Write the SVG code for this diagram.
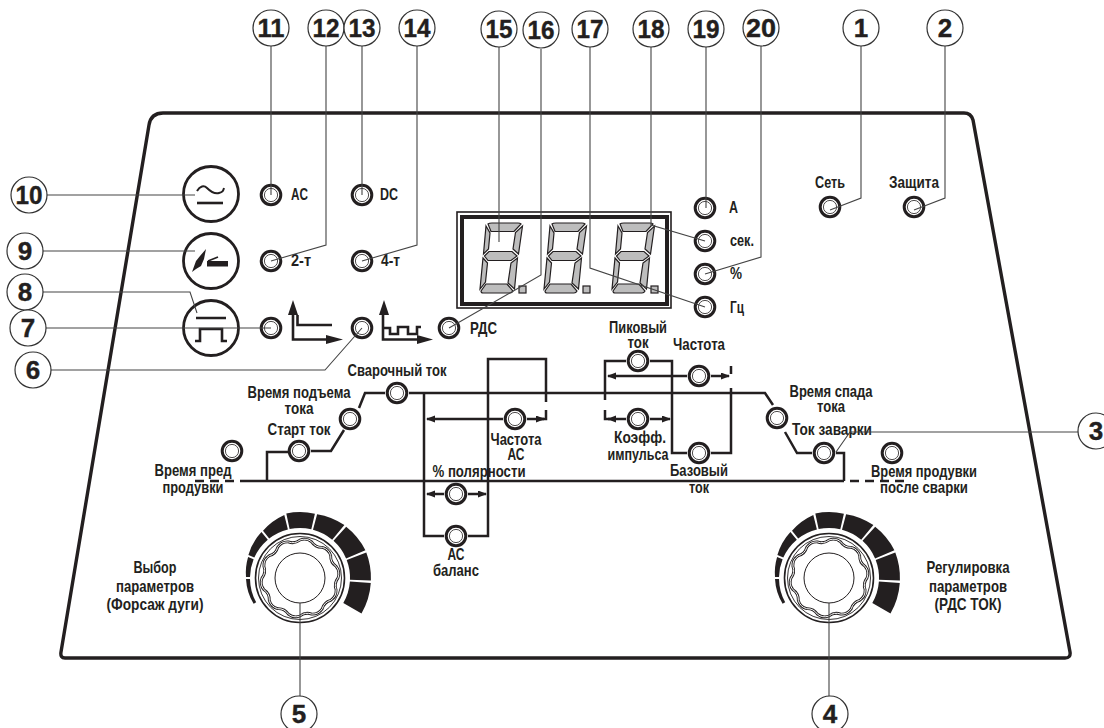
<svg xmlns="http://www.w3.org/2000/svg" width="1104" height="728" viewBox="0 0 1104 728">
<style>
text{font-family:"Liberation Sans",Arial,sans-serif;font-weight:700;font-size:16.5px;fill:#231f20}
.m{text-anchor:middle}
.num{font-size:26px;text-anchor:middle;stroke:#231f20;stroke-width:.4}
.c{fill:#fff;stroke:#333;stroke-width:1.2}
.thin{fill:none;stroke:#444;stroke-width:1.1}
.thick{fill:none;stroke:#231f20;stroke-width:2.5}
.dash{fill:none;stroke:#231f20;stroke-width:2.5;stroke-dasharray:9 6}
.seg{fill:#bdbdbd;stroke:#231f20;stroke-width:1.2}
.btn{fill:#fff;stroke:#231f20;stroke-width:2.8}
.ic{fill:none;stroke:#231f20;stroke-width:2.6}
</style>
<defs>
<marker id="ah" markerUnits="userSpaceOnUse" markerWidth="10" markerHeight="8" refX="8" refY="3.5" orient="auto"><path d="M0,0L9,3.5L0,7Z" fill="#231f20"/></marker>
<g id="led"><circle r="9.8" fill="#fff" stroke="#231f20" stroke-width="3"/><circle r="6.6" fill="#fff" stroke="#231f20" stroke-width=".8"/></g>
<g id="digit" class="seg">
<path d="M8,1Q9,0 12,0L38,0Q40,0 41,1L34,8.5L11,8.5Z"/>
<path d="M6,3L10,10L8.5,26L3.5,31Z"/>
<path d="M42.5,3L38.5,31L33,26L35.5,9.5Z"/>
<path d="M4.5,33L9,28.5L32,28.5L37,33L31,37.5L8,37.5Z"/>
<path d="M3,35L7.5,40L5.5,59L0,66Z"/>
<path d="M37.5,35L34.5,66L28,60L31,40Z"/>
<path d="M1,68L6,61L27,61L33,68Q32,70 30,70L3,70Q1,70 1,68Z"/>
<rect x="39" y="63" width="7" height="7"/>
</g>
<path id="wave" d="M0,-38A12,12 0 0 1 11.7,-36.1A12,12 0 0 0 22.3,-30.7A12,12 0 0 1 30.7,-22.3A12,12 0 0 0 36.1,-11.7A12,12 0 0 1 38,0A12,12 0 0 0 36.1,11.7A12,12 0 0 1 30.7,22.3A12,12 0 0 0 22.3,30.7A12,12 0 0 1 11.7,36.1A12,12 0 0 0 0,38A12,12 0 0 1 -11.7,36.1A12,12 0 0 0 -22.3,30.7A12,12 0 0 1 -30.7,22.3A12,12 0 0 0 -36.1,11.7A12,12 0 0 1 -38,0A12,12 0 0 0 -36.1,-11.7A12,12 0 0 1 -30.7,-22.3A12,12 0 0 0 -22.3,-30.7A12,12 0 0 1 -11.7,-36.1A12,12 0 0 0 0,-38Z"/>
<g id="knob">
<g fill="#231f20">
<path d="M-43.8,24.3L-46.4,25.7A53.5,53.5 0 0 1 -54,0.9L-50,0.9A50,50 0 0 0 -43.8,24.3Z"/>
<path d="M-50,-0.9L-54,-0.9A55,55 0 0 1 -51.9,-21L-46.4,-18.8A50,50 0 0 0 -50,-0.9Z"/>
<path d="M-45.7,-20.4L-51.6,-23A58,58 0 0 1 -38.6,-46L-32.2,-38.3A50,50 0 0 0 -45.7,-20.4Z"/>
<path d="M-30.8,-39.4L-37,-47.3A62,62 0 0 1 -15.7,-63L-12.1,-48.5A50,50 0 0 0 -30.8,-39.4Z"/>
<path d="M-10.4,-48.9L-13.7,-64.5A66,66 0 0 1 14.9,-64.3L11.3,-48.7A50,50 0 0 0 -10.4,-48.9Z"/>
<path d="M13,-48.3L17.1,-63.8A67,67 0 0 1 44.4,-52.9L32.2,-38.3A50,50 0 0 0 13,-48.3Z"/>
<path d="M33.5,-37.2L46.2,-51.3A70,70 0 0 1 65.4,-27.8L46.1,-19.6A50,50 0 0 0 33.5,-37.2Z"/>
<path d="M46.7,-17.9L66.3,-25.4A71,71 0 0 1 70.9,2.5L50,1.8A50,50 0 0 0 46.7,-17.9Z"/>
<path d="M49.9,3.5L70.8,5A71,71 0 0 1 61.5,35.5L43.3,25A50,50 0 0 0 49.9,3.5Z"/>
</g>
<circle r="44.5" fill="#fff" stroke="#231f20" stroke-width="1.6"/>
<circle r="41.5" fill="none" stroke="#231f20" stroke-width=".9"/>
<use href="#wave" fill="none" stroke="#231f20" stroke-width="2.8"/>
<use href="#wave" fill="none" stroke="#fff" stroke-width="1"/>
<circle r="25" fill="#fff" stroke="#231f20" stroke-width="1"/>
</g>
</defs>
<rect width="1104" height="728" fill="#fff"/>

<g id="panel"><path d="M61,652L149,125Q151,113 163,113L964,113Q971,113 973,120L1070,652Q1071,658 1065,658L65,658Q60,658 61,652Z" fill="none" stroke="#231f20" stroke-width="3.4"/></g>

<g id="connectors">
<g id="circuit">
<path class="thick" d="M267,481V452H288M311,451H331L344,430M359,408L365,393H385M409,393H765L773,405M785,432L797,453H812M836,453H844V481M248,481H844"/>
<path class="dash" d="M195,481H248M850,481H910"/>
<path class="thick" d="M424,393V536H444M468,536H488V359H546V402M546,410V419H540"/>
<path class="thick" marker-end="url(#ah)" d="M503,419H427"/>
<path class="thick" marker-end="url(#ah)" d="M527,419H544"/>
<path class="thick" marker-end="url(#ah)" d="M444,494H427"/>
<path class="thick" marker-end="url(#ah)" d="M468,494H486"/>
<path class="thick" d="M605,400V361H626M650,361H672V453H687M711,453H731V388M731,374V366M605,410V419H610"/>
<path class="thick" marker-end="url(#ah)" d="M687,376H608"/>
<path class="thick" marker-end="url(#ah)" d="M711,376H729"/>
<path class="thick" marker-end="url(#ah)" d="M626,419H608"/>
<path class="thick" marker-end="url(#ah)" d="M650,419H670"/>
</g>
</g>

<g id="display">
<rect x="457" y="212" width="214" height="96" fill="none" stroke="#231f20" stroke-width="1.6"/>
<rect x="462" y="217" width="205" height="87" fill="none" stroke="#231f20" stroke-width="4"/>
<use href="#digit" x="480" y="223"/><use href="#digit" x="544" y="223"/><use href="#digit" x="612" y="223"/>
</g>

<g id="btn10"><circle class="btn" cx="211" cy="194" r="27.5"/><path class="ic" d="M197,191C200,186 204,185 207,188S215,194 219,193S223,191 224,188" style="stroke-width:2"/><path class="ic" d="M197,203H223"/></g>
<g id="btn9"><circle class="btn" cx="211" cy="261" r="27.5"/><rect x="207" y="261" width="21" height="5.5" fill="#231f20"/><path d="M192,272L196,261L200,256L206,249L204,259L201,266L196,269Z" fill="#231f20"/><path class="ic" d="M208,261L218,257" style="stroke-width:1.6"/></g>
<g id="btn8"><circle class="btn" cx="211" cy="328" r="27.5"/><path class="ic" d="M196,318H226M195,341H200V329H222V341H227"/></g>

<g id="graph1"><path class="ic" d="M293,312V339.500H328M297.500,315V325H332"/><path d="M293,300L298,315H288Z" fill="#231f20"/><path d="M326,335L343,339.500L326,344Z" fill="#231f20"/></g>
<g id="graph2"><path class="ic" d="M383,312V339.500H420M383,328H390V334H398V327H408V334H417V327H421"/><path d="M384,300L389,315H379Z" fill="#231f20"/><path d="M417,335L433,339.500L417,344Z" fill="#231f20"/></g>

<g id="knob-left"><use href="#knob" x="300" y="578"/></g>
<g id="knob-right"><use href="#knob" x="829" y="578"/></g>

<g id="led-ac"><use href="#led" x="271" y="195"/><text x="291" y="200" textLength="17" lengthAdjust="spacingAndGlyphs">AC</text></g>
<g id="led-dc"><use href="#led" x="362" y="195"/><text x="380" y="200" textLength="18" lengthAdjust="spacingAndGlyphs">DC</text></g>
<g id="led-2t"><use href="#led" x="271" y="261"/><text x="291" y="266" textLength="20" lengthAdjust="spacingAndGlyphs">2-т</text></g>
<g id="led-4t"><use href="#led" x="362" y="261"/><text x="381" y="266" textLength="19" lengthAdjust="spacingAndGlyphs">4-т</text></g>
<g id="led-7"><use href="#led" x="271" y="328"/></g>
<g id="led-6"><use href="#led" x="362" y="328"/></g>
<g id="led-rds"><use href="#led" x="449" y="328"/><text x="470" y="334" textLength="27" lengthAdjust="spacingAndGlyphs">РДС</text></g>
<g id="led-a"><use href="#led" x="705" y="208"/><text x="729" y="213" textLength="9" lengthAdjust="spacingAndGlyphs">А</text></g>
<g id="led-sek"><use href="#led" x="705" y="241"/><text x="730" y="246" textLength="24" lengthAdjust="spacingAndGlyphs">сек.</text></g>
<g id="led-pct"><use href="#led" x="705" y="274"/><text x="730" y="279" textLength="12" lengthAdjust="spacingAndGlyphs">%</text></g>
<g id="led-hz"><use href="#led" x="705" y="307"/><text x="730" y="313" textLength="14" lengthAdjust="spacingAndGlyphs">Гц</text></g>
<g id="led-set"><use href="#led" x="830" y="207"/><text class="m" x="830" y="188" textLength="30" lengthAdjust="spacingAndGlyphs">Сеть</text></g>
<g id="led-zash"><use href="#led" x="914" y="207"/><text class="m" x="914" y="188" textLength="50" lengthAdjust="spacingAndGlyphs">Защита</text></g>

<g id="led-svar"><use href="#led" x="397" y="393"/><text class="m" x="397" y="376" textLength="99" lengthAdjust="spacingAndGlyphs">Сварочный ток</text></g>
<g id="led-podem"><use href="#led" x="350" y="419"/><text class="m" x="299" y="398" textLength="103" lengthAdjust="spacingAndGlyphs">Время подъема</text><text class="m" x="299" y="414" textLength="29" lengthAdjust="spacingAndGlyphs">тока</text></g>
<g id="led-start"><use href="#led" x="299" y="451"/><text class="m" x="299" y="435" textLength="63" lengthAdjust="spacingAndGlyphs">Старт ток</text></g>
<g id="led-pred"><use href="#led" x="232" y="451"/><text class="m" x="193" y="476" textLength="77" lengthAdjust="spacingAndGlyphs">Время пред</text><text class="m" x="193" y="493" textLength="61" lengthAdjust="spacingAndGlyphs">продувки</text></g>
<g id="led-chac"><use href="#led" x="515" y="419"/><text class="m" x="516" y="445" textLength="51" lengthAdjust="spacingAndGlyphs">Частота</text><text class="m" x="516" y="460" textLength="17" lengthAdjust="spacingAndGlyphs">АС</text></g>
<g id="led-pol"><use href="#led" x="456" y="494"/><text class="m" x="479" y="477" textLength="93" lengthAdjust="spacingAndGlyphs">% полярности</text></g>
<g id="led-bal"><use href="#led" x="456" y="536"/><text class="m" x="456" y="560" textLength="17" lengthAdjust="spacingAndGlyphs">АС</text><text class="m" x="456" y="576" textLength="46" lengthAdjust="spacingAndGlyphs">баланс</text></g>
<g id="led-pik"><use href="#led" x="638" y="361"/><text class="m" x="638" y="333" textLength="58" lengthAdjust="spacingAndGlyphs">Пиковый</text><text class="m" x="638" y="348" textLength="21" lengthAdjust="spacingAndGlyphs">ток</text></g>
<g id="led-chast"><use href="#led" x="699" y="376"/><text class="m" x="699" y="350" textLength="52" lengthAdjust="spacingAndGlyphs">Частота</text></g>
<g id="led-koef"><use href="#led" x="638" y="419"/><text class="m" x="640" y="443" textLength="52" lengthAdjust="spacingAndGlyphs">Коэфф.</text><text class="m" x="638" y="460" textLength="61" lengthAdjust="spacingAndGlyphs">импульса</text></g>
<g id="led-baz"><use href="#led" x="699" y="453"/><text class="m" x="699" y="476" textLength="58" lengthAdjust="spacingAndGlyphs">Базовый</text><text class="m" x="699" y="493" textLength="20" lengthAdjust="spacingAndGlyphs">ток</text></g>
<g id="led-spad"><use href="#led" x="777" y="418"/><text class="m" x="831" y="397" textLength="83" lengthAdjust="spacingAndGlyphs">Время спада</text><text class="m" x="831" y="412" textLength="28" lengthAdjust="spacingAndGlyphs">тока</text></g>
<g id="led-zav"><use href="#led" x="824" y="453"/><text class="m" x="832" y="435" textLength="80" lengthAdjust="spacingAndGlyphs">Ток заварки</text></g>
<g id="led-prod"><use href="#led" x="892" y="453"/><text class="m" x="924" y="477" textLength="106" lengthAdjust="spacingAndGlyphs">Время продувки</text><text class="m" x="924" y="493" textLength="88" lengthAdjust="spacingAndGlyphs">после сварки</text></g>

<g id="label-left"><text class="m" x="155" y="573" textLength="43" lengthAdjust="spacingAndGlyphs">Выбор</text><text class="m" x="155" y="592" textLength="78" lengthAdjust="spacingAndGlyphs">параметров</text><text class="m" x="155" y="610" textLength="97" lengthAdjust="spacingAndGlyphs">(Форсаж дуги)</text></g>
<g id="label-right"><text class="m" x="968" y="573" textLength="83" lengthAdjust="spacingAndGlyphs">Регулировка</text><text class="m" x="968" y="592" textLength="78" lengthAdjust="spacingAndGlyphs">параметров</text><text class="m" x="968" y="610" textLength="67" lengthAdjust="spacingAndGlyphs">(РДС ТОК)</text></g>

<g id="leaders">
<path class="thin" d="M271,46V195M326,46V245L271,261M362,46V195M417,46V245L362,261M46,195H195M43,251H195M43,292H190L197,313M46,328H271M51,370H325L362,328M1078,432H850L836,452"/>
<path class="thin" d="M499,46V242M541,49V275L449,328M590,46V268L705,307M651,46V225L705,241M706,46V208M761,46V257L705,274M861,46V198L830,210M945,46V198L914,210M300,696V603M829,696V603"/>
</g>

<g id="n11"><circle class="c" cx="271" cy="28" r="18"/><text class="num" x="271" y="37" textLength="27" lengthAdjust="spacingAndGlyphs">11</text></g>
<g id="n12"><circle class="c" cx="326" cy="28" r="18"/><text class="num" x="326" y="37" textLength="27" lengthAdjust="spacingAndGlyphs">12</text></g>
<g id="n13"><circle class="c" cx="362" cy="28" r="18"/><text class="num" x="362" y="37" textLength="27" lengthAdjust="spacingAndGlyphs">13</text></g>
<g id="n14"><circle class="c" cx="417" cy="28" r="18"/><text class="num" x="417" y="37" textLength="27" lengthAdjust="spacingAndGlyphs">14</text></g>
<g id="n15"><circle class="c" cx="499" cy="29" r="18"/><text class="num" x="499" y="38" textLength="27" lengthAdjust="spacingAndGlyphs">15</text></g>
<g id="n16"><circle class="c" cx="541" cy="30" r="18"/><text class="num" x="541" y="39" textLength="27" lengthAdjust="spacingAndGlyphs">16</text></g>
<g id="n17"><circle class="c" cx="590" cy="29" r="18"/><text class="num" x="590" y="38" textLength="27" lengthAdjust="spacingAndGlyphs">17</text></g>
<g id="n18"><circle class="c" cx="651" cy="29" r="18"/><text class="num" x="651" y="38" textLength="27" lengthAdjust="spacingAndGlyphs">18</text></g>
<g id="n19"><circle class="c" cx="706" cy="29" r="18"/><text class="num" x="706" y="38" textLength="27" lengthAdjust="spacingAndGlyphs">19</text></g>
<g id="n20"><circle class="c" cx="761" cy="28" r="18"/><text class="num" x="761" y="37" textLength="30" lengthAdjust="spacingAndGlyphs">20</text></g>
<g id="n1"><circle class="c" cx="861" cy="28" r="18"/><text class="num" x="861" y="37">1</text></g>
<g id="n2"><circle class="c" cx="945" cy="28" r="18"/><text class="num" x="945" y="37">2</text></g>
<g id="n10"><circle class="c" cx="29" cy="195" r="18"/><text class="num" x="29" y="204" textLength="27" lengthAdjust="spacingAndGlyphs">10</text></g>
<g id="n9"><circle class="c" cx="25" cy="251" r="18"/><text class="num" x="25" y="260">9</text></g>
<g id="n8"><circle class="c" cx="25" cy="292" r="18"/><text class="num" x="25" y="301">8</text></g>
<g id="n7"><circle class="c" cx="28" cy="328" r="18"/><text class="num" x="28" y="337">7</text></g>
<g id="n6"><circle class="c" cx="33" cy="370" r="18"/><text class="num" x="33" y="379">6</text></g>
<g id="n3"><circle class="c" cx="1096" cy="431" r="18"/><text class="num" x="1096" y="440">3</text></g>
<g id="n4"><circle class="c" cx="830" cy="714" r="18"/><text class="num" x="830" y="723">4</text></g>
<g id="n5"><circle class="c" cx="299" cy="714" r="18"/><text class="num" x="299" y="723">5</text></g>
</svg>
